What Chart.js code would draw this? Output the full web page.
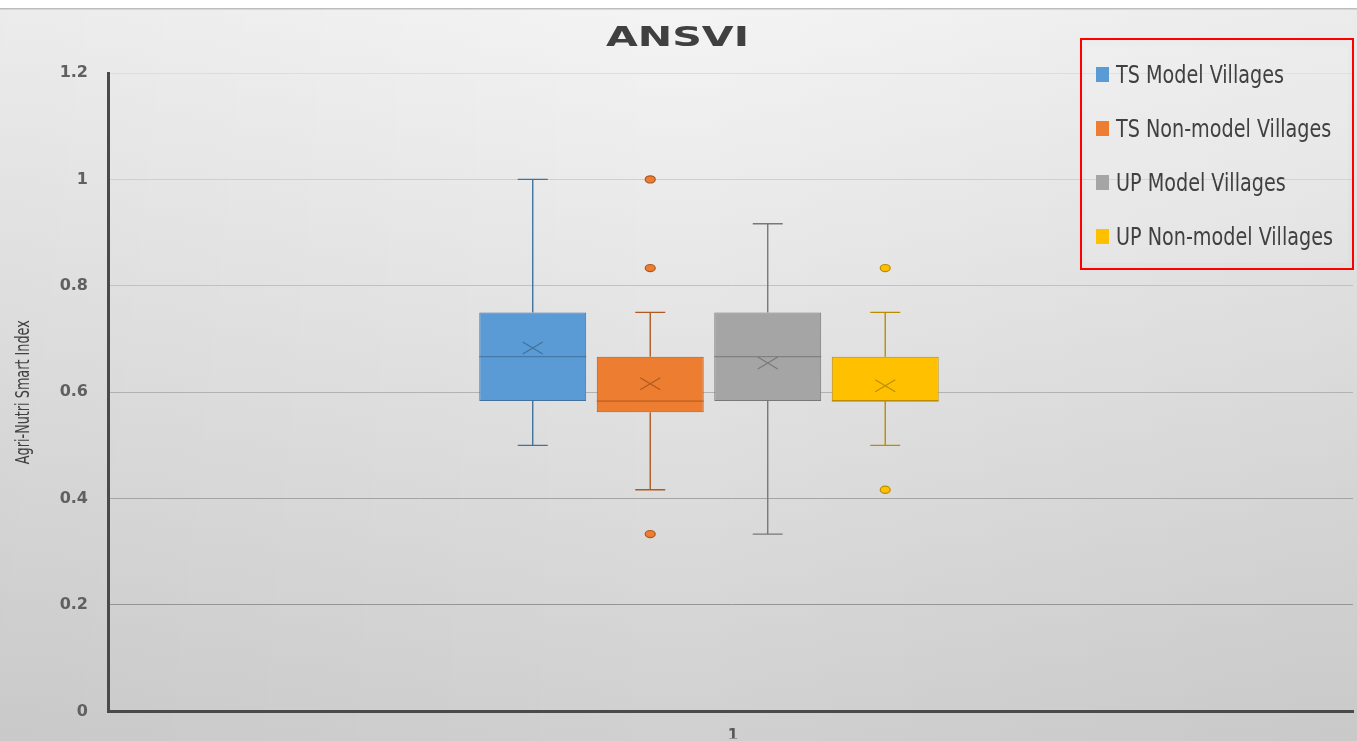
<!DOCTYPE html>
<html>
<head>
<meta charset="utf-8">
<title>ANSVI</title>
<script src="https://cdn.jsdelivr.net/npm/chart.js@4.4.1/dist/chart.umd.min.js"></script>
<style>
  html, body { margin: 0; padding: 0; background: #ffffff; overflow: hidden; }
  #wrap { position: relative; width: 1357px; height: 741px; }
  canvas { display: block; }
</style>
</head>
<body>
<div id="wrap"><canvas id="c" width="1357" height="741"></canvas></div>
<script>
// ---- data ----
const categories = ['1'];
const seriesNames = ['TS Model Villages', 'TS Non-model Villages', 'UP Model Villages', 'UP Non-model Villages'];
const whiskerLow  = [0.5,    0.4167, 0.3333, 0.5];
const quartile1   = [0.5833, 0.5625, 0.5833, 0.5833];
const medians     = [0.6667, 0.5833, 0.6667, 0.5833];
const quartile3   = [0.75,   0.6667, 0.75,   0.6667];
const whiskerHigh = [1.0,    0.75,   0.9167, 0.75];
const means       = [0.683,  0.616,  0.655,  0.612];
const outliers    = [[], [1.0, 0.8333, 0.3333], [], [0.8333, 0.4167]];
const yTicks      = [0, 0.2, 0.4, 0.6, 0.8, 1, 1.2];
const yAxisTitle  = 'Agri-Nutri Smart Index';
const chartTitle  = 'ANSVI';

// ---- styling ----
const fillColors = ['#5B9BD5', '#ED7D31', '#A5A5A5', '#FFC000'];
const lineColors = ['#41719C', '#AE5A21', '#787878', '#BC8C00'];
const textColor = '#404040';
const narrowFont = '"DejaVu Sans Condensed", "Liberation Sans", sans-serif';

// Draws text squeezed horizontally so it spans a given width
function fillFittedText(ctx, text, x, y, targetWidth, align) {
  const w = ctx.measureText(text).width;
  const sx = targetWidth / w;
  ctx.save();
  ctx.translate(x, y);
  ctx.scale(sx, 1);
  ctx.textAlign = align;
  ctx.fillText(text, 0, 0);
  ctx.restore();
}

// Background: soft grey gradient panel with a thin top rule
const backgroundPlugin = {
  id: 'panelBackground',
  beforeDraw(chart) {
    const { ctx, width, height } = chart;
    ctx.save();
    ctx.fillStyle = '#ffffff';
    ctx.fillRect(0, 0, width, height);
    const g = ctx.createLinearGradient(0, 9, 0, height);
    g.addColorStop(0, '#f4f4f4');
    g.addColorStop(1, '#d0d0d0');
    ctx.fillStyle = g;
    ctx.fillRect(0, 9, width, height - 9);
    const h = ctx.createLinearGradient(0, 0, width, 0);
    h.addColorStop(0, 'rgba(0,0,0,0.035)');
    h.addColorStop(0.5, 'rgba(0,0,0,0)');
    h.addColorStop(1, 'rgba(0,0,0,0.035)');
    ctx.fillStyle = h;
    ctx.fillRect(0, 9, width, height - 9);
    ctx.fillStyle = '#bdbdbd';
    ctx.fillRect(0, 8, width, 1.5);
    ctx.restore();
  }
};

// Title and rotated value-axis caption
const textPlugin = {
  id: 'chartTexts',
  afterDraw(chart) {
    const { ctx } = chart;
    ctx.save();
    ctx.fillStyle = textColor;
    ctx.textBaseline = 'alphabetic';
    ctx.font = 'bold 26px "DejaVu Sans", sans-serif';
    fillFittedText(ctx, chartTitle, 677.5, 46, 143, 'center');

    const area = chart.chartArea;
    ctx.save();
    ctx.translate(29, (area.top + area.bottom) / 2);
    ctx.rotate(-Math.PI / 2);
    ctx.font = '20px ' + narrowFont;
    ctx.textBaseline = 'alphabetic';
    fillFittedText(ctx, yAxisTitle, 0, 0, 144, 'center');
    ctx.restore();
    ctx.restore();
  }
};

// Whiskers, medians, means and outliers for each series
const boxPlotPlugin = {
  id: 'boxDetails',
  afterDatasetsDraw(chart) {
    const { ctx } = chart;
    const y = chart.scales.y;
    ctx.save();
    chart.data.datasets.forEach((ds, i) => {
      const meta = chart.getDatasetMeta(i);
      if (!meta.visible) return;
      const el = meta.data[0];
      const cx = el.x;
      const halfW = el.width / 2;
      const col = lineColors[i];
      const yQ1 = y.getPixelForValue(quartile1[i]);
      const yQ3 = y.getPixelForValue(quartile3[i]);
      const yLo = y.getPixelForValue(whiskerLow[i]);
      const yHi = y.getPixelForValue(whiskerHigh[i]);
      const yMed = y.getPixelForValue(medians[i]);
      const yMean = y.getPixelForValue(means[i]);
      const cap = 15;
      ctx.strokeStyle = col;
      ctx.lineWidth = 1.4;
      ctx.beginPath();
      ctx.moveTo(cx, yQ3); ctx.lineTo(cx, yHi);
      ctx.moveTo(cx - cap, yHi); ctx.lineTo(cx + cap, yHi);
      ctx.moveTo(cx, yQ1); ctx.lineTo(cx, yLo);
      ctx.moveTo(cx - cap, yLo); ctx.lineTo(cx + cap, yLo);
      ctx.stroke();
      // median
      ctx.lineWidth = 1;
      ctx.beginPath();
      ctx.moveTo(cx - halfW, yMed); ctx.lineTo(cx + halfW, yMed);
      ctx.stroke();
      // mean marker
      ctx.lineWidth = 1.1;
      ctx.beginPath();
      ctx.moveTo(cx - 10, yMean - 6); ctx.lineTo(cx + 10, yMean + 6);
      ctx.moveTo(cx - 10, yMean + 6); ctx.lineTo(cx + 10, yMean - 6);
      ctx.stroke();
      // outliers
      outliers[i].forEach(v => {
        const py = y.getPixelForValue(v);
        ctx.beginPath();
        ctx.ellipse(cx, py, 5, 3.6, 0, 0, Math.PI * 2);
        ctx.fillStyle = fillColors[i];
        ctx.fill();
        ctx.lineWidth = 1.2;
        ctx.strokeStyle = col;
        ctx.stroke();
      });
    });
    ctx.restore();
  }
};

// Legend panel with red frame at the upper right
const legendPlugin = {
  id: 'framedLegend',
  afterDraw(chart) {
    const { ctx } = chart;
    ctx.save();
    ctx.fillStyle = 'rgba(255,255,255,0.12)';
    ctx.fillRect(1085, 47, 263, 216);
    ctx.strokeStyle = '#ff0000';
    ctx.lineWidth = 2;
    ctx.strokeRect(1081, 39, 272, 230);
    ctx.font = '25px ' + narrowFont;
    ctx.textBaseline = 'alphabetic';
    // common horizontal squeeze, set by the longest entry
    const longest = chart.data.datasets.reduce((m, ds) => Math.max(m, ctx.measureText(ds.label).width), 0);
    const sx = 217 / longest;
    chart.data.datasets.forEach((ds, i) => {
      const cy = 74 + i * 54;
      ctx.fillStyle = ds.backgroundColor;
      ctx.fillRect(1096, cy - 7, 13, 15);
      ctx.fillStyle = textColor;
      fillFittedText(ctx, ds.label, 1116, cy + 9, ctx.measureText(ds.label).width * sx, 'left');
    });
    ctx.restore();
  }
};

const datasets = seriesNames.map((name, i) => ({
  label: name,
  data: [{ x: 1, y: [quartile1[i], quartile3[i]] }],
  backgroundColor: fillColors[i],
  borderColor: lineColors[i],
  borderWidth: 1,
  borderSkipped: false
}));

new Chart(document.getElementById('c'), {
  type: 'bar',
  data: { datasets },
  plugins: [backgroundPlugin, boxPlotPlugin, legendPlugin, textPlugin],
  options: {
    responsive: false,
    devicePixelRatio: 1,
    animation: false,
    categoryPercentage: 0.3775,
    barPercentage: 0.91,
    layout: { padding: { top: 73, right: 4, left: 0, bottom: 0 } },
    plugins: {
      legend: { display: false },
      title: { display: false },
      tooltip: { enabled: false }
    },
    scales: {
      x: {
        type: 'linear',
        bounds: 'data',
        offset: false,
        min: 0.5,
        max: 1.5358,
        grid: { display: false },
        border: { display: true, color: '#4a4a4a', width: 3 },
        afterBuildTicks(scale) {
          scale.ticks = categories.map((c, i) => ({ value: i + 1 }));
        },
        afterFit(scale) { scale.height = 27; },
        ticks: {
          autoSkip: false,
          labelOffset: 24,
          padding: 8,
          color: '#595959',
          font: { family: '"DejaVu Sans", sans-serif', size: 15, weight: 'bold' },
          callback: (v) => categories[Math.round(v) - 1] ?? ''
        }
      },
      y: {
        min: 0,
        max: 1.2,
        afterBuildTicks(scale) {
          scale.ticks = yTicks.map(v => ({ value: v }));
        },
        afterFit(scale) { scale.width = 108; },
        border: { display: true, color: '#4a4a4a', width: 3 },
        grid: {
          drawTicks: false,
          lineWidth: 1,
          color: (c) => {
            const v = c.tick ? c.tick.value : 0;
            if (v === 0) return 'rgba(0,0,0,0)';
            const g = Math.round(135 + v * 72);
            return `rgb(${g},${g},${g})`;
          }
        },
        ticks: {
          padding: 20,
          color: '#606060',
          font: { family: '"DejaVu Sans", sans-serif', size: 16, weight: 'bold' },
          callback: (v) => String(v)
        }
      }
    }
  }
});
</script>
</body>
</html>
